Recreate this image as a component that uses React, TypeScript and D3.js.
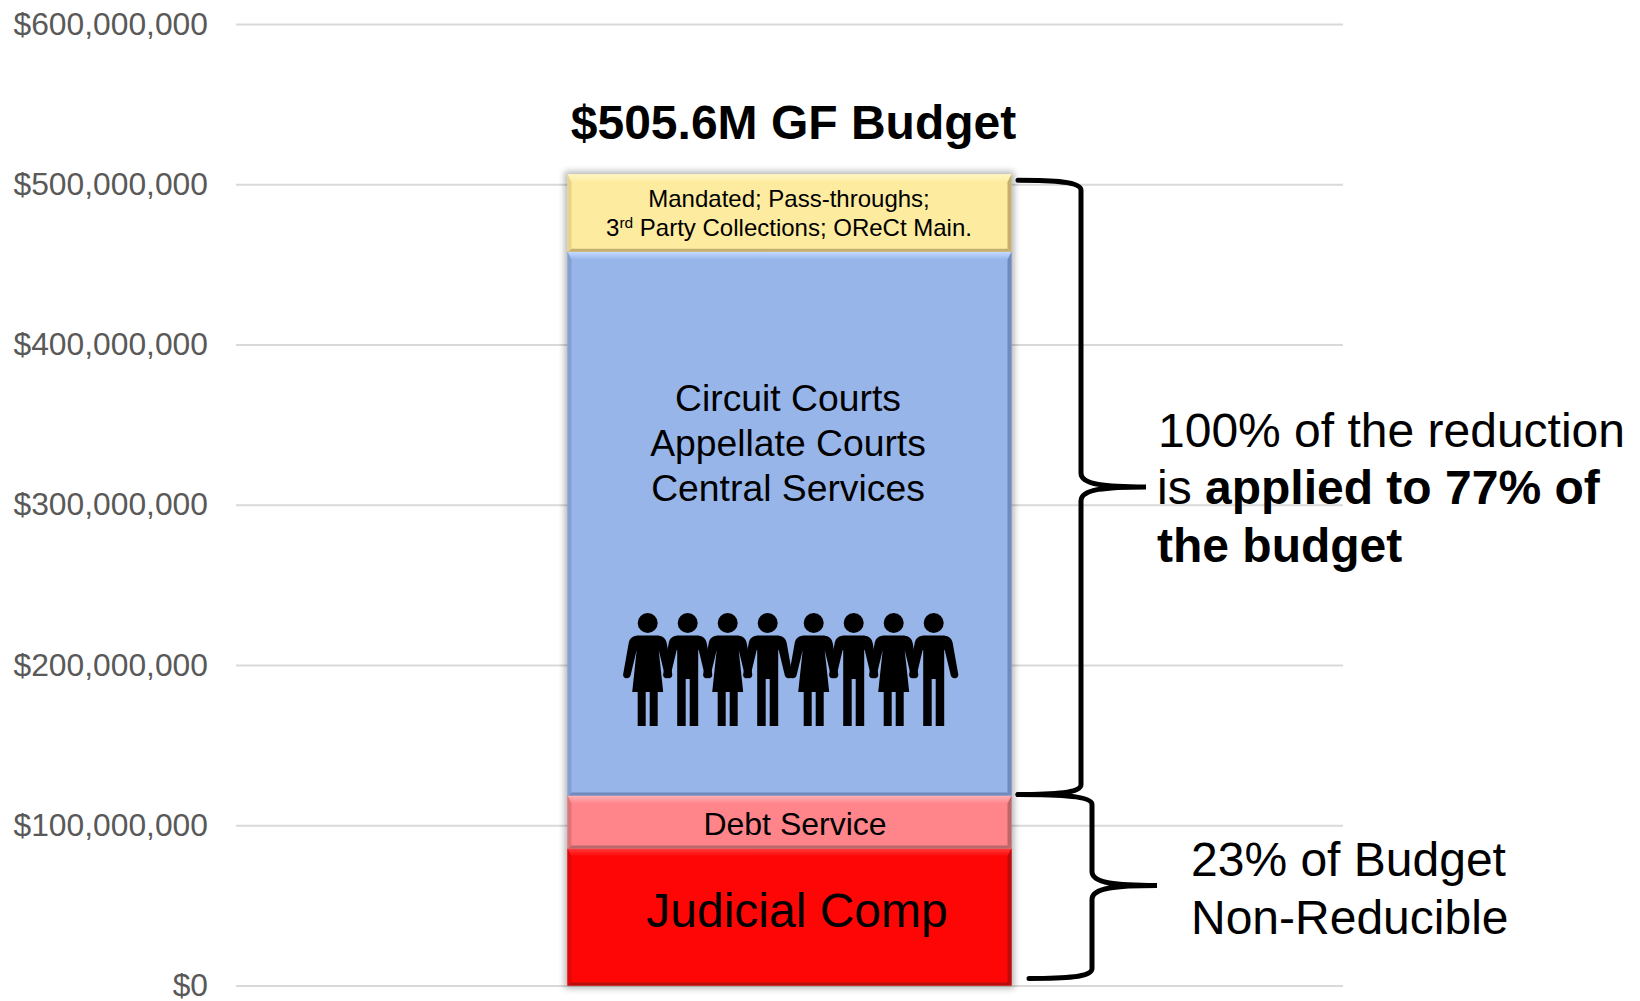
import React, { useRef, useEffect } from "react";
import * as d3 from "d3";

// stacked segments, bottom to top (dollars)
const segmentNames = ["Judicial Comp", "Debt Service", "Circuit Courts etc", "Mandated etc"];
const segmentValues = [85500000, 33100000, 339300000, 48300000];
const tickValues = [0, 100000000, 200000000, 300000000, 400000000, 500000000, 600000000];
const peopleTypes = ["f", "m", "f", "m", "f", "m", "f", "m"];
const peopleGroups = [0, 0, 0, 0, 1, 1, 1, 1];

const segmentFill = ["#ff0606", "#ff858a", "#97b5e9", "#fdeb9f"];
const segmentLight = ["#ff3c3c", "#ffb4b8", "#c4dcff", "#fff6c4"];
const segmentDark = ["#b80d0d", "#b9686c", "#6f8abb", "#c4ae72"];
const segmentSide = ["#e00808", "#dd7478", "#84a0d2", "#e6d48e"];

const WIDTH = 1640;
const HEIGHT = 1001;
const FONT = "'Liberation Sans', Arial, sans-serif";

// pictogram bodies, drawn around x=0 with y=0 at the top of the head
const manPath =
  "M-8,22.5 L8,22.5 C15,22.5 18,25 19,30 L24.5,61 C25.5,66 18,67 17,62 L11,37 L10.5,37 L10.5,113 L2,113 L2,66 L-2,66 L-2,113 L-10.5,113 L-10.5,37 L-11,37 L-17,62 C-18,67 -25.5,66 -24.5,61 L-19,30 C-18,25 -15,22.5 -8,22.5 Z";
const womanPath =
  "M-8,22.5 L8,22.5 C15,22.5 18,25 19,30 L24.5,61 C25.5,66 18,67 17,62 L11,37 L15.5,79 L10,79 L10,113 L2,113 L2,79 L-2,79 L-2,113 L-10,113 L-10,79 L-15.5,79 L-11,37 L-17,62 C-18,67 -25.5,66 -24.5,61 L-19,30 C-18,25 -15,22.5 -8,22.5 Z";

function bracePath(xStart: number, yTop: number, xStartBottom: number, yBottom: number, xSpine: number, xTip: number, yTip: number) {
  return [
    `M${xStart},${yTop}`,
    `C${xStart + 35},${yTop} ${xSpine},${yTop + 1} ${xSpine},${yTop + 10}`,
    `L${xSpine},${yTip - 14}`,
    `C${xSpine},${yTip - 2} ${xSpine + 25},${yTip} ${xTip},${yTip}`,
    `C${xSpine + 25},${yTip} ${xSpine},${yTip + 2} ${xSpine},${yTip + 14}`,
    `L${xSpine},${yBottom - 10}`,
    `C${xSpine},${yBottom - 1} ${xStartBottom + 35},${yBottom} ${xStartBottom},${yBottom}`,
  ].join(" ");
}

function App() {
  const svgRef = useRef<SVGSVGElement>(null);

  useEffect(() => {
    const svg = d3.select(svgRef.current);
    svg.selectAll("*").remove();

    const y = d3.scaleLinear().domain([0, 600000000]).range([985.5, 24]);
    const x = d3.scaleLinear().domain([0, 1]).range([236, 1343]);

    const defs = svg.append("defs");
    const shadow = defs.append("filter").attr("id", "barShadow").attr("x", "-5%").attr("width", "110%");
    shadow.append("feGaussianBlur").attr("stdDeviation", 3);

    // soft bevel: light edge fading into the segment colour
    segmentNames.forEach((_, i) => {
      const grad = defs
        .append("linearGradient")
        .attr("id", `bevel${i}`)
        .attr("x1", 0)
        .attr("y1", 0)
        .attr("x2", 0)
        .attr("y2", 1);
      grad.append("stop").attr("offset", "0%").attr("stop-color", segmentLight[i]);
      grad.append("stop").attr("offset", "100%").attr("stop-color", segmentFill[i]);
    });

    // axis + grid
    const axis = d3
      .axisLeft(y)
      .tickValues(tickValues)
      .tickSize(-(x(1) - x(0)))
      .tickPadding(28)
      .tickFormat(d3.format("$,.0f") as any);
    const axisG = svg.append("g").attr("transform", `translate(${x(0)},0)`).call(axis as any);
    axisG.select(".domain").remove();
    axisG.selectAll("line").attr("stroke", "#d9d9d9").attr("stroke-width", 2);
    axisG
      .selectAll("text")
      .attr("fill", "#595959")
      .attr("font-family", FONT)
      .attr("font-size", 31.8);

    // stacked bar
    const barX0 = 567.5;
    const barX1 = 1011.5;
    const stacked = d3.cumsum(segmentValues);
    const total = stacked[stacked.length - 1];

    svg
      .append("rect")
      .attr("x", barX0 - 3)
      .attr("y", y(total) - 3)
      .attr("width", barX1 - barX0 + 6)
      .attr("height", y(0) - y(total) + 6)
      .attr("fill", "#000")
      .attr("opacity", 0.28)
      .attr("filter", "url(#barShadow)");

    segmentNames.forEach((name, i) => {
      const yb = y(i === 0 ? 0 : stacked[i - 1]);
      const yt = y(stacked[i]);
      const bev = 8;
      const side = 4;
      const g = svg.append("g").attr("class", "segment").attr("data-name", name);
      g.append("rect")
        .attr("x", barX0)
        .attr("y", yt)
        .attr("width", barX1 - barX0)
        .attr("height", yb - yt)
        .attr("fill", segmentFill[i]);
      const poly = (pts: number[][], fill: string) =>
        g.append("polygon").attr("points", pts.map((p) => p.join(",")).join(" ")).attr("fill", fill);
      poly([[barX0, yt], [barX1, yt], [barX1 - side, yt + bev], [barX0 + side, yt + bev]], `url(#bevel${i})`);
      poly([[barX0, yb], [barX1, yb], [barX1 - side, yb - 3], [barX0 + side, yb - 3]], segmentDark[i]);
      poly([[barX0, yt], [barX0 + side, yt + bev], [barX0 + side, yb - 3], [barX0, yb]], segmentSide[i]);
      poly([[barX1, yt], [barX1 - side, yt + bev], [barX1 - side, yb - 3], [barX1, yb]], segmentDark[i]);
    });

    // people row
    const px = d3.scalePoint<number>().domain(d3.range(4)).range([0, 120]);
    const groupStart = [647.7, 813.7];
    const peopleTop = 613;
    const people = svg.append("g").attr("class", "people");
    peopleTypes.forEach((t, i) => {
      const cx = groupStart[peopleGroups[i]] + (px(i % 4) as number);
      const p = people.append("g").attr("transform", `translate(${cx},${peopleTop})`);
      p.append("circle").attr("cx", 0).attr("cy", 10).attr("r", 10).attr("fill", "#000");
      p.append("path").attr("d", t === "f" ? womanPath : manPath).attr("fill", "#000");
    });

    // text helper
    const text = (sx: number, sy: number, size: number, anchor = "middle") =>
      svg
        .append("text")
        .attr("x", sx)
        .attr("y", sy)
        .attr("font-family", FONT)
        .attr("font-size", size)
        .attr("text-anchor", anchor)
        .attr("fill", "#000");

    text(793.5, 139, 48).attr("font-weight", "bold").text("$505.6M GF Budget");

    text(789, 207, 24).text("Mandated; Pass-throughs;");
    const third = text(789, 236, 24);
    third.append("tspan").text("3");
    third.append("tspan").attr("dy", -8).attr("font-size", 15.5).text("rd");
    third.append("tspan").attr("dy", 8).text(" Party Collections; OReCt Main.");

    text(788, 411, 37.3).text("Circuit Courts");
    text(788, 456, 37.3).text("Appellate Courts");
    text(788, 501, 37.3).text("Central Services");
    text(795, 835, 32).text("Debt Service");
    text(797, 927, 48).text("Judicial Comp");

    // braces
    const brace = svg.append("g").attr("fill", "none").attr("stroke", "#000").attr("stroke-width", 5).attr("stroke-linecap", "round");
    const split = y(stacked[1]);
    brace
      .append("path")
      .attr("d", bracePath(1018, y(total) + 6, 1018, split - 1, 1081, 1146, (y(total) + split) / 2 + 2));
    brace
      .append("path")
      .attr("d", bracePath(1018, split - 1, 1029, y(0) - 7, 1092, 1157, (split + y(0)) / 2 - 5));

    // right notes
    text(1158, 447, 48, "start").text("100% of the reduction");
    const line2 = text(1157, 504, 48, "start");
    line2.append("tspan").text("is ");
    line2.append("tspan").attr("font-weight", "bold").text("applied to 77% of");
    text(1157, 562, 48, "start").attr("font-weight", "bold").text("the budget");
    text(1191, 876, 48, "start").text("23% of Budget");
    text(1191, 934, 48, "start").text("Non-Reducible");
  }, []);

  return (
    <svg
      ref={svgRef}
      width={WIDTH}
      height={HEIGHT}
      style={{ position: "absolute", left: 0, top: 0, background: "#fff" }}
    />
  );
}

export default App;
